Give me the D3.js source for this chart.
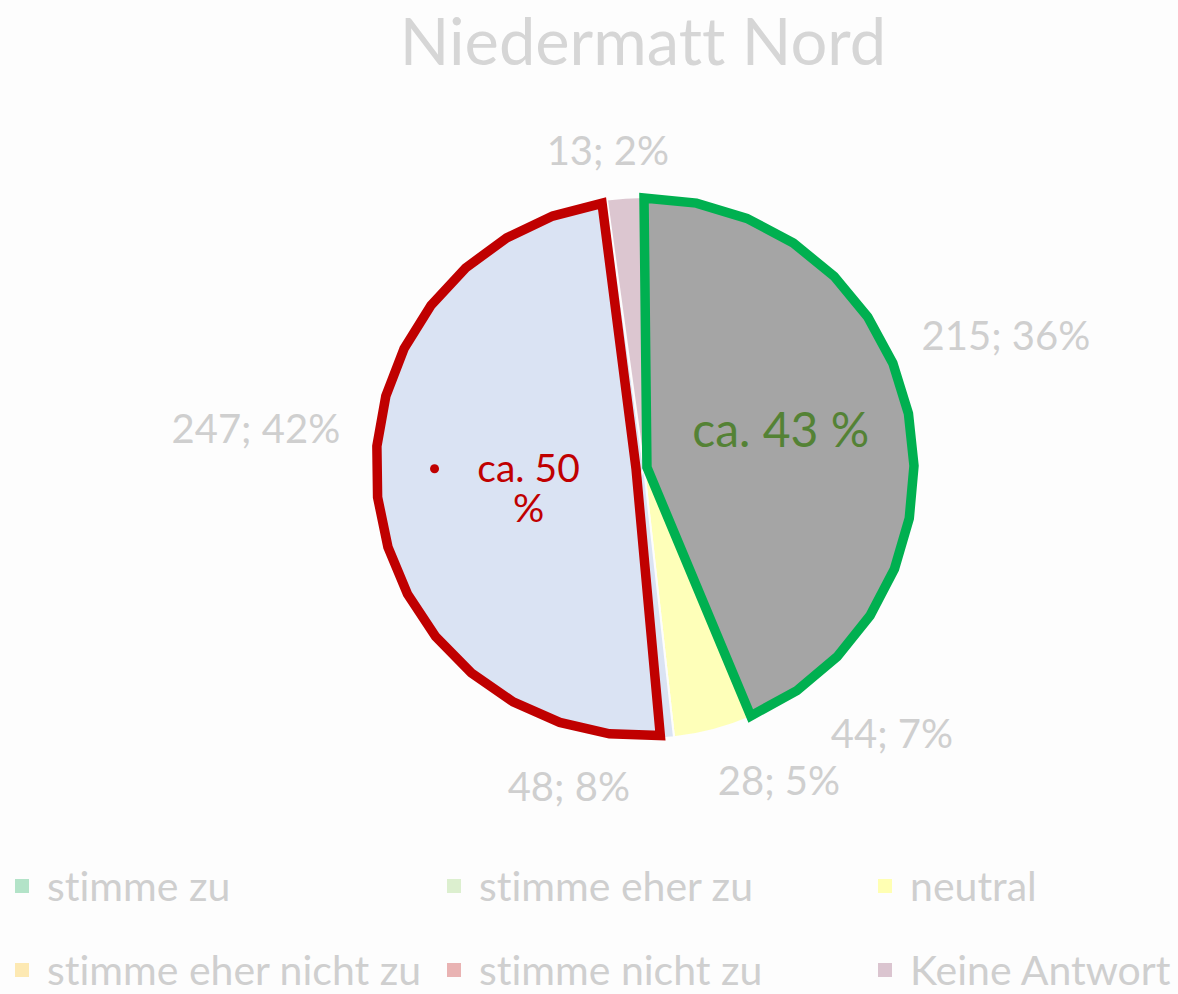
<!DOCTYPE html>
<head>
<meta charset="utf-8">
<style>
body { margin: 0; background: #fdfdfd; }
text { font-family: Lato, "Open Sans", sans-serif; font-variant-ligatures: none; }
.lbl { fill: #cfcfcf; font-size: 40px; }
.leg { fill: #cfcfcf; font-size: 41px; }
</style>
</head>
<body>
<script src="https://cdn.jsdelivr.net/npm/d3@7"></script>
<script>
// values
var categories = ["stimme zu", "stimme eher zu", "neutral", "stimme eher nicht zu", "stimme nicht zu", "Keine Antwort"];
var counts = [215, 44, 28, 48, 247, 13];
var legendColors = ["#b3e3c8", "#dcefcf", "#ffffb3", "#fde9b3", "#e9b3b3", "#dbc5d0"];
var sliceColors = ["#a5a5a5", "#a5a5a5", "#feffb9", "#dae3f3", "#dae3f3", "#dcc6d0"];
// the two hand-drawn outlines over the pie
var groupMembers = [[0, 1], [3, 4]];
var groupTexts = [["ca. 43 %"], ["ca. 50", "%"]];

var W = 1178, H = 994;
var cx = 644, cy = 468, R = 271;

var svg = d3.select("body").append("svg")
  .attr("width", W)
  .attr("height", H);

svg.append("rect").attr("width", W).attr("height", H).attr("fill", "#fdfdfd");

svg.append("text")
  .attr("x", 643).attr("y", 65)
  .attr("text-anchor", "middle")
  .attr("fill", "#d6d6d6")
  .style("font-size", "65px")
  .text("Niedermatt Nord");

var total = d3.sum(counts);
var pie = d3.pie().sort(null).value(function(d) { return d; });
var arcs = pie(counts);

var g = svg.append("g").attr("transform", "translate(" + cx + "," + cy + ")");

var arc = d3.arc().innerRadius(0).outerRadius(R);

g.selectAll("path.slice")
  .data(arcs)
  .enter().append("path")
  .attr("class", "slice")
  .attr("d", arc)
  .attr("fill", function(d, i) { return sliceColors[i]; })
  .attr("stroke", "#fdfdfd")
  .attr("stroke-width", 2);

// polygon outline of a group of slices, a bit like a freehand shape
var outlineStyle = [
  {stroke: "#00b050", r: 270, shift: 3, pad0: 0, pad1: 0},
  {stroke: "#c00000", r: 268, shift: 8, pad0: 0.05, pad1: 0.02}
];

function outline(members, st) {
  var a0 = arcs[members[0]].startAngle + st.pad0;
  var a1 = arcs[members[members.length - 1]].endAngle - st.pad1;
  var mid = (arcs[members[0]].startAngle + arcs[members[members.length - 1]].endAngle) / 2;
  var n = Math.max(2, Math.round((a1 - a0) / (11 * Math.PI / 180)));
  var pts = [];
  var ax = st.shift * Math.sin(mid), ay = -st.shift * Math.cos(mid);
  pts.push([ax, ay]);
  for (var k = 0; k <= n; k++) {
    var a = a0 + (a1 - a0) * k / n;
    pts.push([st.r * Math.sin(a), -st.r * Math.cos(a)]);
  }
  return {pts: pts, mid: mid};
}

var order = [1, 0]; // red first, green on top
order.forEach(function(gi) {
  var o = outline(groupMembers[gi], outlineStyle[gi]);
  g.append("path")
    .attr("d", d3.line()(o.pts) + "Z")
    .attr("fill", sliceColors[groupMembers[gi][0]])
    .attr("stroke", outlineStyle[gi].stroke)
    .attr("stroke-width", 9.5)
    .attr("stroke-linejoin", "miter")
    .attr("stroke-miterlimit", 10);
});

// group texts at the centroid of each group
var centroidArc = d3.arc().innerRadius(0).outerRadius(R);
groupMembers.forEach(function(m, gi) {
  var c = centroidArc.centroid({
    startAngle: arcs[m[0]].startAngle,
    endAngle: arcs[m[m.length - 1]].endAngle
  });
  if (gi === 0) {
    g.append("text")
      .attr("x", c[0] + 4).attr("y", c[1] + 6)
      .attr("text-anchor", "middle")
      .attr("fill", "#548235")
      .style("font-size", "48px")
      .text(groupTexts[gi][0]);
  } else {
    g.append("circle")
      .attr("cx", c[0] - 75).attr("cy", c[1] - 16)
      .attr("r", 4.5)
      .attr("fill", "#c00000");
    var tt = g.append("text")
      .attr("text-anchor", "middle")
      .attr("fill", "#c00000")
      .style("font-size", "39px");
    groupTexts[gi].forEach(function(t, li) {
      tt.append("tspan")
        .attr("x", c[0] + 19).attr("y", c[1] - 3 + li * 40)
        .text(t);
    });
  }
});

// data labels outside the pie
var labelNudge = [[8, 3], [29, 8], [41, 2], [-23, 1], [-1, 2], [-11, 3]];
var gap = 35, boxH = 30;
arcs.forEach(function(d, i) {
  var a = (d.startAngle + d.endAngle) / 2;
  var t = g.append("text")
    .attr("class", "lbl")
    .attr("text-anchor", "middle")
    .attr("dy", "0.36em")
    .text(counts[i] + "; " + Math.round(counts[i] / total * 100) + "%");
  var w = t.node().getComputedTextLength();
  var px = (R + gap) * Math.sin(a), py = -(R + gap) * Math.cos(a);
  t.attr("x", px + Math.sin(a) * w / 2 + labelNudge[i][0])
   .attr("y", py - Math.cos(a) * boxH / 2 + labelNudge[i][1]);
});

// legend, three columns, two rows
var legX = [15, 447, 878], legY = [886, 970];
var leg = svg.selectAll("g.legend")
  .data(categories)
  .enter().append("g")
  .attr("class", "legend")
  .attr("transform", function(d, i) {
    return "translate(" + legX[i % 3] + "," + legY[Math.floor(i / 3)] + ")";
  });

leg.append("rect")
  .attr("x", 0).attr("y", -7)
  .attr("width", 14).attr("height", 14)
  .attr("fill", function(d, i) { return legendColors[i]; });

leg.append("text")
  .attr("class", "leg")
  .attr("x", 32)
  .attr("dy", "0.36em")
  .text(function(d) { return d; });
</script>
</body>
